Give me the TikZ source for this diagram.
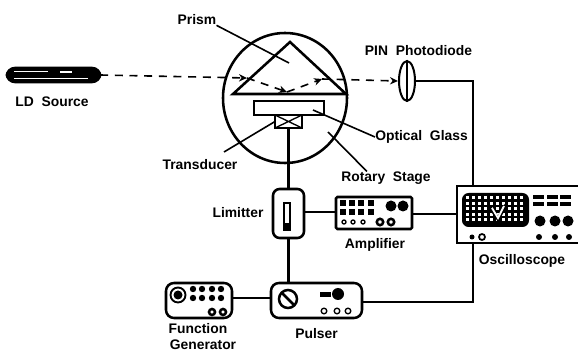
\documentclass[tikz,border=0pt]{standalone}
\usepackage{fontspec}
\setmainfont{Liberation Sans}
\usetikzlibrary{arrows.meta,shapes.geometric}

\begin{document}
\begin{tikzpicture}[>=Stealth,x=0.75pt,y=-0.75pt,
      dev/.style={draw,line width=1.9pt,rounded corners=4pt,inner sep=0,outer sep=0,fill=white},
      wire/.style={line width=1.9pt},
      leader/.style={line width=1.2pt},
      beam/.style={line width=1.2pt,dash pattern=on 6pt off 5pt,-{Stealth[length=6pt,width=5.5pt]}},
      lbl/.style={inner sep=0,font=\fontsize{10.4}{11}\selectfont\bfseries}]
    \useasboundingbox (0,0) rectangle (578,352);
    \node[ellipse,draw,line width=1.9pt,minimum width=93pt,minimum height=97.5pt,inner sep=0] (chamber) at (285,98) {};
    \coordinate (apex) at (290,42); \coordinate (prisml) at (233,94); \coordinate (prismr) at (346,94);
    \draw[wire,line join=miter] (apex) -- (prisml) -- (prismr) -- cycle;
    \node[dev,rounded corners=0,minimum width=52.5pt,minimum height=10.5pt] (glass) at (289,108) {};
    \node[dev,rounded corners=0,minimum width=20.25pt,minimum height=9.75pt] (trans) at (288.5,121.5) {};
    \draw[line width=1pt] (trans.north west) -- (trans.south east) (trans.north east) -- (trans.south west);
    \node[dev,rounded corners=6pt,minimum width=70pt,minimum height=10.5pt,fill=black] (ld) at (53.5,75) {};
    \draw[white,line width=1.2pt] (14,71.5) -- (48,71.5) (14,78.5) -- (88,78.5) (60,72) -- (72,72);
    \node[ellipse,draw,line width=1.5pt,minimum width=12pt,minimum height=30pt,inner sep=0,fill=white] (lens) at (407,81) {};
    \draw[line width=1pt] (lens.north) -- (lens.south);
    \node[dev,rounded corners=5pt,minimum width=23.25pt,minimum height=36.75pt] (limit) at (288.5,213.5) {};
    \node[dev,rounded corners=0,line width=1.3pt,minimum width=4.5pt,minimum height=20pt] (slot) at (287,216.5) {};
    \fill (284,223) rectangle (290,230);
    \node[dev,rounded corners=1pt,minimum width=57pt,minimum height=24pt] (amp) at (374,213) {};
    \node[dev,rounded corners=6pt,minimum width=68.25pt,minimum height=26.25pt] (pulser) at (316.5,300.5) {};
    \node[dev,rounded corners=6pt,minimum width=49.5pt,minimum height=26.25pt] (fgen) at (199,300.5) {};
    \node[inner sep=0,outer sep=0,minimum width=90.75pt,minimum height=42.75pt] (osc) at (517.5,214.5) {};
    \draw[wire] (osc.north east) -- (osc.north west) -- (osc.south west) -- (osc.south east);
    \coordinate (enter) at (247,78); \coordinate (bottom) at (287,92); \coordinate (leave) at (322,79);
    \draw[beam] (ld.east) -- (enter);
    \draw[beam] (enter) -- (bottom);
    \draw[beam] (bottom) -- (leave);
    \draw[beam] (leave) -- (lens.west);
    \draw[wire] (lens.east) -- (473,81) -- (473,186);
    \draw[wire] (trans.south) -- (limit.north);
    \draw[wire] (limit.south) -- (limit.south |- pulser.north);
    \draw[wire] (limit.east |- 0,212) -- (amp.west |- 0,212);
    \draw[wire] (amp.east |- 0,214) -- (osc.west |- 0,214);
    \draw[wire] (fgen.east |- 0,298) -- (pulser.west |- 0,298);
    \draw[wire] (pulser.east |- 0,302) -- (473,302) -- (473,243);
    \foreach \x in {343,352,361,371}
      \foreach \y in {203,212}
        \fill (\x-3.2,\y-3) rectangle (\x+3.2,\y+3);
    \foreach \x in {391,403} \fill (\x,206) circle (5.5);
    \foreach \x in {344,353,363} \draw[line width=1pt] (\x,222) circle (2);
    \foreach \x in {380,391} \draw[line width=1.9pt] (\x,222) circle (3.2);
    \draw[line width=1.9pt] (288,299) circle (9);
    \draw[line width=1.9pt] (282,293) -- (294,305);
    \fill (320,292) rectangle (331,297);
    \fill (338,294) circle (6);
    \foreach \x in {324,337,348} \draw[line width=1pt] (\x,311) circle (2.8);
    \draw[line width=1.4pt] (178,295) circle (7.5);
    \fill (178,295) circle (4.5);
    \foreach \x in {193,202,212,221}
      \foreach \y in {289,298}
        \fill (\x,\y) circle (3.2);
    \foreach \x in {212,223} \draw[line width=1.9pt] (\x,312) circle (3);
    \fill[rounded corners=5pt] (462,193) rectangle (529,227);
    \foreach \x in {467,473,...,526}
      \foreach \y in {198,203.5,...,224}
        \fill[white] (\x-1.5,\y-1.5) rectangle (\x+1.5,\y+1.5);
    \draw[black,line width=2.5pt] (490,207) -- (498,219) -- (506,205);
    \draw[white,line width=1.4pt] (492,208) -- (498,218) -- (504,206);
    \foreach \x in {533,547,560}
      \foreach \y in {197,204}
        \fill (\x,\y-2.2) rectangle (\x+11,\y+2.2);
    \foreach \x in {540,555,568} \fill (\x,221) circle (5.5);
    \foreach \x in {539,555,569} \fill (\x,237) circle (3);
    \fill (472,237) circle (2.5);
    \draw[line width=1.3pt] (482,237) circle (3);
    \node[lbl] (prismlbl) at (197,20) {Prism};
    \node[lbl] (pinlbl) at (418.5,51) {PIN~~Photodiode};
    \node[lbl] (ldlbl) at (52,102) {LD~~Source};
    \node[lbl] (glasslbl) at (421.5,137) {Optical~~Glass};
    \node[lbl] (stagelbl) at (386,178) {Rotary~~Stage};
    \node[lbl] (translbl) at (200,165) {Transducer};
    \node[lbl] (limitlbl) at (238,213) {Limitter};
    \node[lbl] (amplbl) at (375,245) {Amplifier};
    \node[lbl] (osclbl) at (522,261) {Oscilloscope};
    \node[lbl] (pulselbl) at (316.5,334) {Pulser};
    \node[lbl] (fgenlbl) at (198,329) {Function};
    \node[lbl] (genlbl) at (203,344.5) {Generator};
    \coordinate (prismtip) at (289,63); \coordinate (glasstip) at (313,110); \coordinate (stagetip) at (328,132);
    \coordinate (transtip) at (224,152);
    \draw[leader] (prismlbl.south east) -- (prismtip);
    \draw[leader] (glasslbl.west) -- (glasstip);
    \draw[leader] (stagelbl.161) -- (stagetip);
    \draw[leader] (transtip) -- (trans.west);
  \end{tikzpicture}
\end{document}
